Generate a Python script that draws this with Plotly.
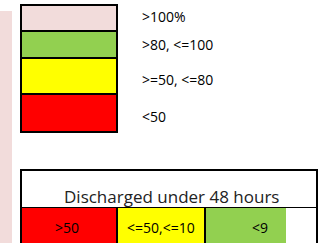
import plotly.graph_objects as go

# Legend 1: occupancy bands
band_labels = [">100%", ">80, <=100", ">=50, <=80", "<50"]
band_colors = ["#f2dcdb", "#92d050", "#ffff00", "#ff0000"]
band_edges = [5, 31, 58, 94, 132]

# Legend 2: discharged under 48 hours
table_title = "Discharged under 48 hours"
cell_labels = [">50", "<=50,<=10", "<9", ""]
cell_colors = ["#ff0000", "#ffff00", "#92d050", "#ffffff"]
cell_edges = [21, 117, 205, 286, 317]

W, H = 326, 243
FONT = "Open Sans"
shapes = []
annotations = []

# pink strip on the left
shapes.append(dict(type="rect", x0=-2, x1=12, y0=11, y1=H + 5, fillcolor="#f2dcdb",
                   line=dict(width=0), layer="below"))

# box 1
bx0, bx1 = 21, 117
label_y = [16, 44, 79, 116]
for i, (lab, col) in enumerate(zip(band_labels, band_colors)):
    y0, y1 = band_edges[i], band_edges[i + 1]
    shapes.append(dict(type="rect", x0=bx0, x1=bx1, y0=y0, y1=y1, fillcolor=col,
                       line=dict(color="black", width=2)))
    annotations.append(dict(x=140, y=label_y[i], text=lab, showarrow=False,
                            xanchor="left", yanchor="middle",
                            font=dict(family=FONT, size=14, color="black")))

# table 2
ty0, ty1 = 170, 208
shapes.append(dict(type="rect", x0=cell_edges[0], x1=cell_edges[-1], y0=ty0, y1=ty1,
                   fillcolor="white", line=dict(color="black", width=2)))
annotations.append(dict(x=(cell_edges[0] + cell_edges[-1]) / 2 + 2, y=196, text=table_title,
                        showarrow=False, xanchor="center", yanchor="middle",
                        font=dict(family=FONT, size=17, color="#222222")))
for i, (lab, col) in enumerate(zip(cell_labels, cell_colors)):
    x0, x1 = cell_edges[i], cell_edges[i + 1]
    shapes.append(dict(type="rect", x0=x0, x1=x1, y0=ty1, y1=H + 5, fillcolor=col,
                       line=dict(width=0)))
    if lab:
        annotations.append(dict(x=(x0 + x1) / 2 - (2 if i == 0 else 0) + (14 if i == 2 else 0),
                                y=227, text=lab, showarrow=False,
                                xanchor="center", yanchor="middle",
                                font=dict(family=FONT, size=14, color="black")))
# vertical lines in table
for x in [cell_edges[0], cell_edges[1], cell_edges[2], cell_edges[-1]]:
    shapes.append(dict(type="line", x0=x, x1=x, y0=ty1, y1=H + 5,
                       line=dict(color="black", width=2)))

fig = go.Figure()
fig.update_layout(
    width=W, height=H, margin=dict(l=0, r=0, t=0, b=0),
    paper_bgcolor="white", plot_bgcolor="white",
    xaxis=dict(range=[0, W], visible=False, fixedrange=True),
    yaxis=dict(range=[H, 0], visible=False, fixedrange=True),
    shapes=shapes, annotations=annotations, showlegend=False,
)
fig.write_html("out.html", config={"displayModeBar": False},
               post_script="document.body.style.margin='0';document.body.style.overflow='hidden';")
